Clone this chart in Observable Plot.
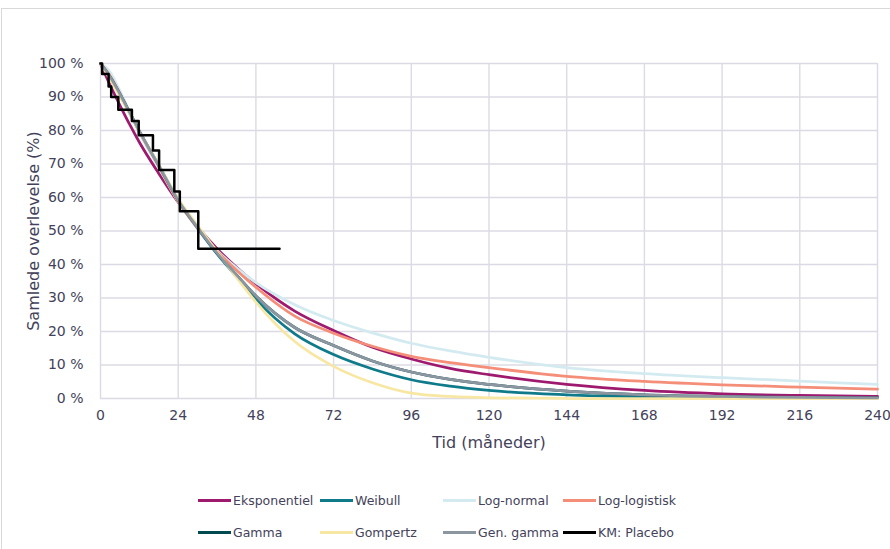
<!DOCTYPE html>
<html>
<head>
<meta charset="utf-8">
<script src="https://cdn.jsdelivr.net/npm/d3@7"></script>
<script src="https://cdn.jsdelivr.net/npm/@observablehq/plot@0.6"></script>
<style>
  html, body { margin: 0; padding: 0; background: #fff; }
  #wrap { position: relative; width: 890px; height: 549px; overflow: hidden; font-family: "DejaVu Sans", sans-serif; }
  #frame { position: absolute; left: 1px; top: 8px; width: 900px; height: 560px; border: 1px solid #d9d9d9; box-sizing: border-box; }
  #chart { position: absolute; left: 0; top: 0; }
  .item { position: absolute; height: 20px; display: flex; align-items: center; font-size: 12.5px; color: #43425a; white-space: nowrap; }
  .sw { width: 33px; height: 3px; margin-right: 2px; }
</style>
</head>
<body>
<div id="wrap">
  <div id="frame"></div>
  <div id="chart"></div>
</div>
<script>
// ---- Data ----
const times = [0, 3, 6, 9, 12, 18, 24, 30, 36, 42, 48, 60, 72, 84, 96, 108, 120, 144, 168, 192, 216, 240];

const eksponentiel = [100, 93.5, 87.5, 81.8, 76.5, 67.2, 58.6, 51.2, 44.7, 39.2, 34.3, 26.1, 20.3, 15.3, 11.8, 9.0, 7.1, 4.2, 2.4, 1.4, 0.9, 0.6];
const weibull      = [100, 95.8, 90.6, 85.2, 79.6, 69.4, 59.0, 50.8, 43.2, 36.4, 29.6, 19.3, 13.1, 8.8, 5.6, 3.7, 2.4, 1.1, 0.5, 0.2, 0.1, 0.05];
const lognormal    = [100, 97.4, 91.8, 85.6, 79.5, 69.0, 58.8, 50.9, 44.2, 39.0, 34.6, 28.0, 23.3, 19.6, 16.5, 14.2, 12.3, 9.2, 7.4, 6.2, 5.2, 4.2];
const loglogistic  = [100, 96.2, 91.0, 85.4, 79.7, 69.3, 58.8, 50.8, 44.0, 38.3, 33.2, 24.6, 19.5, 15.6, 12.6, 10.7, 9.2, 6.6, 5.1, 4.1, 3.4, 2.8];
const gamma        = [100, 96.0, 90.9, 85.4, 79.8, 69.6, 59.2, 51.0, 43.4, 36.9, 30.6, 21.2, 15.8, 11.2, 7.9, 5.7, 4.2, 2.2, 1.1, 0.6, 0.3, 0.2];
const gompertz     = [100, 95.2, 90.2, 85.0, 79.6, 69.8, 59.6, 51.6, 43.8, 36.2, 28.8, 17.0, 9.6, 4.7, 1.6, 0.6, 0.2, 0.0, 0.0, 0.0, 0.0, 0.0];
const genGamma     = [100, 96.0, 90.9, 85.4, 79.8, 69.6, 59.2, 51.0, 43.4, 36.9, 30.6, 21.2, 15.8, 11.2, 7.9, 5.7, 4.2, 2.2, 1.1, 0.6, 0.3, 0.2];

const kmTimes  = [0, 0.5, 2.5, 3.3, 5.5, 9.7, 11.8, 16.2, 18.1, 22.8, 24.5, 30.2, 55.3];
const kmValues = [100, 96.9, 93.1, 90.0, 86.2, 82.8, 78.6, 74.0, 68.2, 61.8, 55.9, 44.7, 44.7];

const seriesNames = ["Eksponentiel", "Weibull", "Log-normal", "Log-logistisk", "Gamma", "Gompertz", "Gen. gamma", "KM: Placebo"];
const xTicks = [0, 24, 48, 72, 96, 120, 144, 168, 192, 216, 240];
const yTicks = [0, 10, 20, 30, 40, 50, 60, 70, 80, 90, 100];

// ---- Styles ----
const colors = ["#9e1a6e", "#0f7a8a", "#d3ebf0", "#f48e78", "#004a50", "#f8e7a3", "#8c96a0", "#000000"];
const textColor = "#43425a";
const gridColor = "#dcdbe5";

const curveValues = [eksponentiel, weibull, lognormal, loglogistic, gamma, gompertz, genGamma];
const curveRows = curveValues.map((vals, i) => times.map((t, j) => ({series: seriesNames[i], t, s: vals[j]})));
const kmRows = kmTimes.map((t, j) => ({series: seriesNames[7], t, s: kmValues[j]}));

const marks = [
  Plot.gridX(xTicks, {stroke: gridColor, strokeOpacity: 1, strokeWidth: 1.4}),
  Plot.gridY(yTicks, {stroke: gridColor, strokeOpacity: 1, strokeWidth: 1.4}),
  Plot.axisX(xTicks, {tickSize: 0, tickPadding: 12, fill: textColor, label: null}),
  Plot.axisY(yTicks, {tickSize: 0, tickPadding: 17, fill: textColor, label: null, tickFormat: d => d + " %"}),
];
curveRows.forEach((rows, i) => {
  marks.push(Plot.line(rows, {x: "t", y: "s", stroke: colors[i], strokeWidth: 2.75, curve: "monotone-x"}));
});
marks.push(Plot.line(kmRows, {x: "t", y: "s", stroke: colors[7], strokeWidth: 2.5, curve: "step-after"}));
marks.push(Plot.text(["Tid (måneder)"], {frameAnchor: "bottom", dy: 49, fill: textColor, fontSize: 16, textAnchor: "middle"}));
marks.push(Plot.text(["Samlede overlevelse (%)"], {frameAnchor: "left", dx: -67, rotate: -90, fill: textColor, fontSize: 16, textAnchor: "middle"}));

const chart = Plot.plot({
  width: 890,
  height: 470,
  marginLeft: 100,
  marginRight: 13,
  marginTop: 63,
  marginBottom: 72,
  x: {domain: [0, 240], label: null},
  y: {domain: [0, 100], label: null},
  style: {fontFamily: "DejaVu Sans, sans-serif", fontSize: "14px", background: "transparent", overflow: "visible"},
  marks
});
document.getElementById("chart").appendChild(chart);

// ---- Legend ----
const wrap = document.getElementById("wrap");
const colX = [198, 320, 443, 563];
const rowY = [490, 522];
seriesNames.forEach((name, i) => {
  const d = document.createElement("div");
  d.className = "item";
  d.style.left = colX[i % 4] + "px";
  d.style.top = rowY[Math.floor(i / 4)] + "px";
  const sw = document.createElement("span");
  sw.className = "sw";
  sw.style.background = colors[i];
  d.appendChild(sw);
  d.appendChild(document.createTextNode(name));
  wrap.appendChild(d);
});
</script>
</body>
</html>
